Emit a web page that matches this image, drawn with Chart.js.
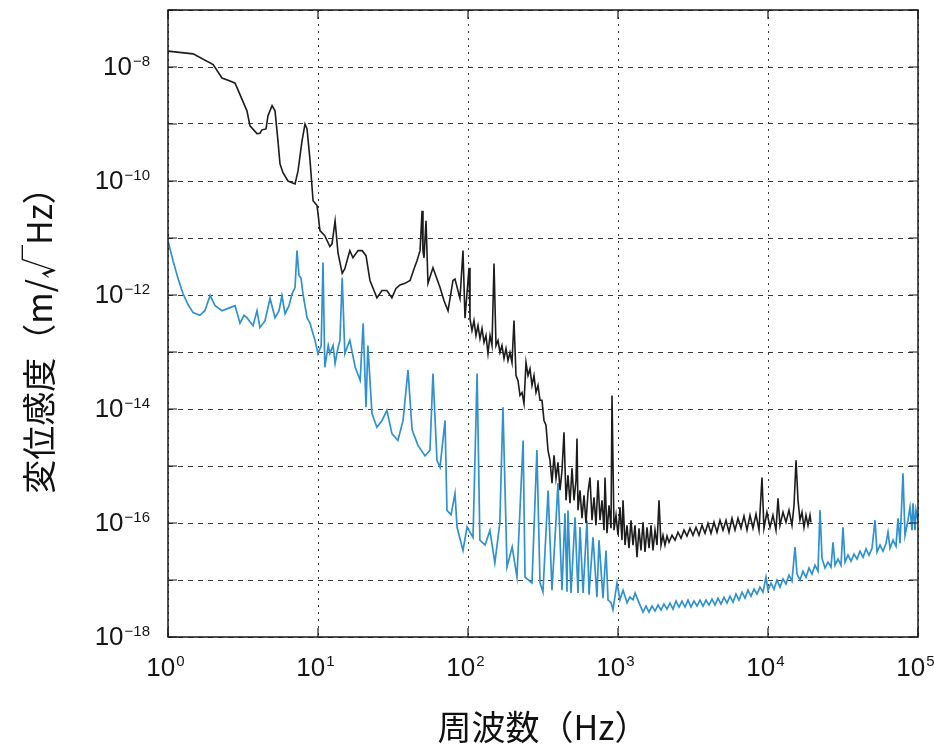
<!DOCTYPE html>
<html>
<head>
<meta charset="utf-8">
<script src="https://cdn.jsdelivr.net/npm/chart.js@4.4.0/dist/chart.umd.min.js"></script>
<style>
  body { margin: 0; background: #fff; }
</style>
</head>
<body>
<canvas id="sensChart" width="934" height="753"></canvas>
<script>
// axis ticks (decades); only even exponents get a label on y
const xTickValues = [1, 10, 100, 1e3, 1e4, 1e5];
const yTickValues = [1e-18, 1e-17, 1e-16, 1e-15, 1e-14, 1e-13, 1e-12, 1e-11, 1e-10, 1e-9, 1e-8, 1e-7];
const yLabelValues = [1e-18, 1e-16, 1e-14, 1e-12, 1e-10, 1e-8];

// black trace, Hz / m/√Hz
const blackFreq = [
  1, 1.47, 2.0, 2.29, 2.59, 2.80, 3.36, 3.52, 3.92, 4.10,
  4.23, 4.50, 4.64, 4.94, 5.17, 5.41, 5.58, 5.84, 6.31, 7.03,
  7.36, 7.82, 8.19, 8.45, 8.85, 9.27, 9.85, 10.0, 10.3, 11.1,
  12.0, 12.4, 13.0, 13.6, 14.5, 15.1, 16.3, 17.1, 18.5, 19.7,
  20.9, 22.2, 24.7, 26.7, 28.8, 31.1, 33.1, 35.2, 38.0, 41.1,
  43.7, 45.7, 47.9, 49.4, 50.1, 50.9, 52.5, 54.1, 58.4, 65.1,
  69.2, 73.6, 79.4, 81.9, 88.4, 92.6, 95.5, 101.6, 103.1, 106.3,
  109.6, 113.0, 116.6, 120.2, 124.0, 127.9, 131.8, 135.9, 140.2, 144.5,
  149.1, 153.7, 158.5, 163.4, 168.5, 173.8, 179.2, 184.8, 190.5, 196.5,
  202.6, 208.9, 215.4, 222.1, 229.1, 236.2, 243.6, 251.2, 259.0, 267.1,
  275.4, 284.0, 292.9, 302.0, 311.4, 321.1, 331.1, 341.5, 352.1, 363.1,
  374.5, 386.2, 398.1, 410.6, 423.4, 436.5, 450.2, 464.2, 478.6, 493.6,
  509.0, 524.8, 532.9, 541.2, 558.0, 575.4, 593.4, 611.9, 631.0, 650.6,
  670.9, 691.8, 713.4, 735.6, 758.6, 782.2, 806.6, 819.1, 844.6, 871.0,
  898.2, 912.1, 940.5, 969.8, 1000, 1031, 1063, 1080, 1114, 1148,
  1184, 1221, 1259, 1298, 1339, 1380, 1423, 1468, 1514, 1561,
  1610, 1660, 1711, 1765, 1820, 1877, 1935, 1995, 2057, 2122,
  2188, 2291, 2399, 2512, 2630, 2754, 2884, 3020, 3162, 3311,
  3467, 3631, 3802, 3981, 4169, 4365, 4571, 4786, 5012, 5248,
  5495, 5754, 6026, 6310, 6607, 6918, 7244, 7586, 7943, 8318,
  8710, 9120, 9397, 9840, 10310, 10790, 11300, 11660, 12020, 12590,
  13180, 13800, 14450, 14910, 15380, 15850, 16340, 16850, 17380, 17920,
  18480, 19050, 19340
];
const blackAmp = [
  1.9e-8, 1.7e-8, 1.1e-8, 6.4e-9, 5.7e-9, 5.2e-9, 1.7e-9, 9.3e-10, 6.8e-10, 6.9e-10,
  7.9e-10, 8.2e-10, 1.4e-9, 2.1e-9, 1.7e-9, 5.0e-10, 2.0e-10, 1.4e-10, 1.0e-10, 8.9e-11,
  1.5e-10, 5.0e-10, 1.0e-9, 8.2e-10, 2.3e-10, 4.5e-11, 3.7e-11, 2.7e-11, 1.35e-11, 1.1e-11,
  7.1e-12, 7.9e-12, 2.0e-11, 5.4e-12, 2.4e-12, 2.9e-12, 6.0e-12, 4.5e-12, 6.0e-12, 6.0e-12,
  4.9e-12, 1.8e-12, 8.9e-13, 1.2e-12, 1.2e-12, 8.9e-13, 1.3e-12, 1.5e-12, 1.6e-12, 1.8e-12,
  2.9e-12, 4.0e-12, 6.0e-12, 3.0e-11, 6.0e-12, 4.5e-12, 2.0e-11, 1.6e-12, 3.0e-12, 1.35e-12,
  7.9e-13, 5.3e-13, 1.8e-12, 1.9e-12, 8.7e-13, 6.0e-12, 3.9e-13, 3.0e-12, 3.86e-13, 2.38e-13,
  3.56e-13, 1.95e-13, 2.91e-13, 1.72e-13, 2.58e-13, 1.47e-13, 1.95e-13, 9.4e-14, 1.95e-13, 1.30e-13,
  3.55e-12, 1.30e-13, 1.59e-13, 9.8e-14, 1.30e-13, 7.7e-14, 1.15e-13, 7.1e-14, 9.8e-14, 6.55e-14,
  3.56e-13, 3.87e-14, 3.17e-14, 1.73e-14, 1.95e-14, 1.25e-14, 6.55e-14, 3.87e-14, 5.1e-14, 2.59e-14,
  3.87e-14, 1.95e-14, 2.59e-14, 1.42e-14, 1.42e-14, 6.3e-15, 5.2e-15, 1.88e-15, 1.26e-15, 5.0e-16,
  1.54e-15, 6.1e-16, 1.16e-15, 3.75e-16, 8.4e-16, 3.89e-15, 2.5e-16, 6.9e-16, 2.22e-16, 9.1e-16,
  2.5e-16, 5.6e-16, 3.05e-15, 1.68e-16, 3.75e-16, 1.21e-16, 3.07e-16, 9.9e-17, 3.46e-16, 6.3e-16,
  1.12e-16, 2.83e-16, 9.1e-17, 5.6e-16, 1.12e-16, 2.5e-16, 7.5e-17, 6.3e-16, 6.6e-17, 2.05e-16,
  8.1e-17, 1.73e-14, 7.5e-17, 1.37e-16, 6.1e-17, 1.89e-16, 5.0e-17, 2.5e-16, 4.1e-17, 9.1e-17,
  3.6e-17, 1.12e-16, 4.1e-17, 9.1e-17, 2.5e-17, 8.1e-17, 3.3e-17, 1.03e-16, 3.1e-17, 8.4e-17,
  3.6e-17, 9.1e-17, 3.3e-17, 7.5e-17, 4.1e-17, 2.5e-16, 4.1e-17, 6.1e-17, 4.1e-17, 5.9e-17,
  4.6e-17, 6.1e-17, 5.0e-17, 6.9e-17, 5.4e-17, 7.5e-17, 5.9e-17, 8.1e-17, 6.1e-17, 8.4e-17,
  6.1e-17, 9.1e-17, 6.6e-17, 9.9e-17, 6.6e-17, 1.03e-16, 6.9e-17, 1.12e-16, 7.5e-17, 1.12e-16,
  6.9e-17, 1.21e-16, 7.5e-17, 1.21e-16, 8.1e-17, 1.32e-16, 7.5e-17, 1.37e-16, 8.1e-17, 1.43e-16,
  7.5e-17, 6.3e-16, 8.1e-17, 1.55e-16, 8.4e-17, 1.37e-16, 7.5e-17, 2.72e-16, 9.1e-17, 1.55e-16,
  1.03e-16, 1.68e-16, 9.1e-17, 2.05e-16, 1.26e-15, 2.5e-16, 1.12e-16, 1.55e-16, 8.4e-17, 1.37e-16,
  9.1e-17, 1.37e-16, 1.03e-16
];

// blue trace
const blueFreq = [
  1.0, 1.08, 1.17, 1.26, 1.36, 1.47, 1.63, 1.76, 1.91, 2.06,
  2.29, 2.59, 2.80, 3.02, 3.21, 3.36, 3.69, 3.92, 4.10, 4.43,
  4.79, 5.17, 5.50, 5.75, 6.03, 6.41, 6.71, 7.03, 7.24, 7.47,
  7.70, 7.94, 8.45, 8.85, 9.12, 9.55, 10.0, 10.5, 10.8, 11.1,
  11.7, 12.0, 12.6, 13.0, 13.6, 14.0, 14.5, 15.1, 15.8, 16.3,
  17.7, 19.1, 20.0, 20.9, 21.5, 22.9, 24.7, 26.7, 28.8, 31.1,
  34.1, 36.9, 39.8, 42.4, 46.4, 51.7, 55.8, 58.4, 62.1, 65.1,
  70.3, 72.4, 77.1, 81.9, 84.5, 92.6, 98.5, 108, 115, 120,
  130, 140, 151, 163, 171, 182, 197, 212, 233, 240,
  267, 288, 302, 316, 342, 363, 386, 398, 423, 443,
  457, 464, 486, 517, 541, 558, 585, 621, 641, 681,
  724, 747, 794, 832, 858, 898, 926, 985, 1030, 1080,
  1150, 1200, 1260, 1300, 1402, 1468, 1537, 1610, 1686, 1765,
  1848, 1935, 2026, 2122, 2222, 2327, 2436, 2551, 2671, 2797,
  2929, 3067, 3211, 3362, 3521, 3687, 3861, 4043, 4233, 4433,
  4642, 4861, 5090, 5330, 5580, 5843, 6119, 6407, 6709, 7025,
  7356, 7703, 8067, 8447, 8845, 9261, 9698, 10000, 10470, 10960,
  11480, 12020, 12590, 13180, 13800, 14450, 15140, 15610, 16340, 17110,
  17920, 18760, 19650, 20570, 21540, 22220, 22910, 23990, 25120, 26300,
  27130, 27980, 29290, 30670, 31620, 32610, 34150, 35760, 37450, 39210,
  41060, 43000, 45020, 47150, 49370, 51700, 53300, 55810, 58440, 61190,
  63100, 65070, 68140, 71350, 73560, 75860, 79430, 81910, 85770, 88450,
  91200, 92610, 95500, 96980, 100000
];
const blueAmp = [
  8.9e-12, 4.0e-12, 1.9e-12, 1.05e-12, 6.8e-13, 4.9e-13, 4.4e-13, 5.3e-13, 9.8e-13, 6.5e-13,
  5.3e-13, 6.0e-13, 6.5e-13, 3.2e-13, 4.4e-13, 4.0e-13, 2.9e-13, 5.3e-13, 2.7e-13, 3.5e-13,
  8.7e-13, 4.0e-13, 5.3e-13, 9.8e-13, 4.7e-13, 6.5e-13, 1.05e-12, 1.35e-12, 6.0e-12, 2.2e-12,
  2.0e-12, 1.05e-12, 4.0e-13, 3.2e-13, 2.4e-13, 1.6e-13, 9.4e-14, 1.3e-13, 3.7e-12, 5.4e-14,
  1.3e-13, 9.4e-14, 1.3e-13, 6.3e-14, 1.2e-13, 1.6e-13, 2.0e-12, 9.4e-14, 1.3e-13, 1.6e-13,
  5.4e-14, 3.2e-14, 3.2e-13, 1.07e-14, 1.3e-13, 8.3e-15, 4.8e-15, 6.3e-15, 9.5e-15, 3.7e-15,
  2.8e-15, 6.3e-15, 4.8e-14, 4.3e-15, 2.3e-15, 1.5e-15, 1.9e-15, 4.2e-14, 1.26e-15, 9.5e-16,
  6.3e-15, 1.66e-16, 1.4e-16, 3.3e-16, 8.5e-17, 3.3e-17, 8.5e-17, 5.6e-17, 4.2e-14, 5.0e-17,
  4.1e-17, 7.4e-17, 2.0e-17, 1.0e-16, 1.07e-14, 1.7e-17, 3.8e-17, 1.12e-17, 2.8e-15, 1.12e-17,
  8.9e-18, 1.9e-15, 8.9e-18, 6.2e-18, 3.7e-16, 6.6e-18, 1.1e-16, 5.0e-16, 6.6e-18, 1.48e-16,
  6.2e-18, 1.66e-16, 5.9e-18, 1.26e-16, 5.9e-18, 8.5e-17, 5.9e-18, 1.1e-16, 5.5e-18, 5.6e-17,
  5.0e-18, 5.0e-17, 4.8e-18, 3.3e-17, 4.5e-18, 4.0e-18, 3.0e-18, 8.9e-18, 4.5e-18, 6.6e-18,
  4.0e-18, 5.0e-18, 4.5e-18, 5.9e-18, 3.63e-18, 2.74e-18, 3.49e-18, 2.74e-18, 3.49e-18, 2.85e-18,
  3.63e-18, 2.97e-18, 3.78e-18, 3.09e-18, 3.94e-18, 3.09e-18, 4.27e-18, 3.35e-18, 4.27e-18, 3.35e-18,
  4.45e-18, 3.35e-18, 4.27e-18, 3.49e-18, 4.45e-18, 3.49e-18, 4.45e-18, 3.63e-18, 4.6e-18, 3.63e-18,
  4.8e-18, 3.78e-18, 5.0e-18, 3.94e-18, 5.2e-18, 4.1e-18, 5.7e-18, 4.45e-18, 6.1e-18, 4.8e-18,
  6.65e-18, 5.2e-18, 6.9e-18, 5.7e-18, 7.5e-18, 6.1e-18, 1.12e-17, 6.65e-18, 8.8e-18, 6.9e-18,
  9.96e-18, 7.5e-18, 1.04e-17, 8.5e-18, 1.22e-17, 9.6e-18, 3.77e-17, 1.27e-17, 9.96e-18, 1.43e-17,
  1.12e-17, 1.62e-17, 1.27e-17, 1.82e-17, 1.43e-17, 1.68e-16, 2.4e-17, 1.62e-17, 2.06e-17, 1.68e-17,
  4.6e-17, 1.82e-17, 2.32e-17, 1.82e-17, 8.4e-17, 2.06e-17, 2.73e-17, 2.14e-17, 2.84e-17, 2.32e-17,
  3.2e-17, 2.5e-17, 3.5e-17, 2.73e-17, 3.6e-17, 1.12e-16, 3.1e-17, 4.1e-17, 3.2e-17, 4.4e-17,
  6.9e-17, 3.6e-17, 5.0e-17, 3.9e-17, 1.21e-16, 4.4e-17, 7.45e-16, 6.1e-17, 1.12e-16, 1.89e-16,
  7.5e-17, 2.22e-16, 7.5e-17, 1.68e-16, 1.12e-16
];

function expText(v) {
  return String(Math.round(Math.log10(v))).replace('-', '\u2212');
}

// frame, short inner ticks and the 10^n tick labels
const framePlugin = {
  id: 'frame',
  afterDraw(chart) {
    const { ctx, chartArea: a, scales } = chart;
    ctx.save();
    ctx.strokeStyle = '#1a1a1a';
    ctx.lineWidth = 1.5;
    ctx.strokeRect(a.left, a.top, a.right - a.left, a.bottom - a.top);
    ctx.lineWidth = 1.2;
    ctx.beginPath();
    xTickValues.forEach(v => {
      const x = scales.x.getPixelForValue(v);
      ctx.moveTo(x, a.bottom); ctx.lineTo(x, a.bottom - 9);
      ctx.moveTo(x, a.top); ctx.lineTo(x, a.top + 9);
    });
    yTickValues.forEach(v => {
      const y = scales.y.getPixelForValue(v);
      ctx.moveTo(a.left, y); ctx.lineTo(a.left + 9, y);
      ctx.moveTo(a.right, y); ctx.lineTo(a.right - 9, y);
    });
    ctx.stroke();

    ctx.fillStyle = '#151515';
    ctx.textBaseline = 'alphabetic';
    ctx.textAlign = 'left';
    const narrow = '"Liberation Sans Narrow", "Liberation Sans", sans-serif';
    const sans = '"Liberation Sans", Arial, sans-serif';
    xTickValues.forEach(v => {
      const x = scales.x.getPixelForValue(v);
      const e = expText(v);
      ctx.font = '26px ' + narrow;
      const wb = ctx.measureText('10').width;
      ctx.font = '15px ' + narrow;
      const we = ctx.measureText(e).width;
      const x0 = x - 3 - (wb + we) / 2;
      ctx.font = '26px ' + narrow;
      ctx.fillText('10', x0, a.bottom + 39);
      ctx.font = '15px ' + narrow;
      ctx.fillText(e, x0 + wb + 1, a.bottom + 29);
    });
    yLabelValues.forEach(v => {
      const y = scales.y.getPixelForValue(v);
      const e = expText(v);
      ctx.font = '15px ' + sans;
      const we = ctx.measureText(e).width;
      ctx.fillText(e, a.left - 18 - we, y - 1);
      ctx.font = '26px ' + sans;
      const wb = ctx.measureText('10').width;
      ctx.fillText('10', a.left - 19 - we - wb, y + 8);
    });
    ctx.restore();
  }
};

const ctx = document.getElementById('sensChart').getContext('2d');
new Chart(ctx, {
  type: 'line',
  data: {
    datasets: [
      {
        label: 'black',
        data: blackFreq.map((f, i) => ({ x: f, y: blackAmp[i] })),
        borderColor: '#1c1c1c',
        borderWidth: 1.6,
        pointRadius: 0,
        tension: 0
      },
      {
        label: 'blue',
        data: blueFreq.map((f, i) => ({ x: f, y: blueAmp[i] })),
        borderColor: '#2f92cf',
        borderWidth: 1.7,
        pointRadius: 0,
        tension: 0
      }
    ]
  },
  options: {
    responsive: false,
    animation: false,
    layout: { padding: { left: 0, top: 10, right: 16, bottom: 0 } },
    plugins: { legend: { display: false }, tooltip: { enabled: false } },
    scales: {
      x: {
        type: 'logarithmic',
        min: 1,
        max: 1e5,
        afterBuildTicks: axis => { axis.ticks = xTickValues.map(v => ({ value: v })); },
        afterFit: axis => {
          axis.height = 116;
          axis.paddingLeft = 0;
          axis.paddingRight = 0;
        },
        grid: { color: '#3a3a3a', lineWidth: 1, drawTicks: false },
        border: { display: false, dash: [2, 5] },
        ticks: { display: false },
        title: {
          display: true,
          text: '周波数（Hz）',
          color: '#111',
          font: { family: '"Noto Sans CJK JP", sans-serif', size: 34 },
          padding: { top: 0, bottom: 6 }
        }
      },
      y: {
        type: 'logarithmic',
        min: 1e-18,
        max: 1e-7,
        afterBuildTicks: axis => { axis.ticks = yTickValues.map(v => ({ value: v })); },
        afterFit: axis => {
          axis.width = 168;
          axis.paddingTop = 0;
          axis.paddingBottom = 0;
        },
        grid: { color: '#3a3a3a', lineWidth: 1, drawTicks: false },
        border: { display: false, dash: [5, 5] },
        ticks: { display: false },
        title: {
          display: true,
          text: '変位感度（m/√Hz）\u3000',
          color: '#111',
          font: { family: '"Noto Sans CJK JP", sans-serif', size: 34 },
          padding: { top: 19, bottom: 0 }
        }
      }
    }
  },
  plugins: [framePlugin]
});
</script>
</body>
</html>
